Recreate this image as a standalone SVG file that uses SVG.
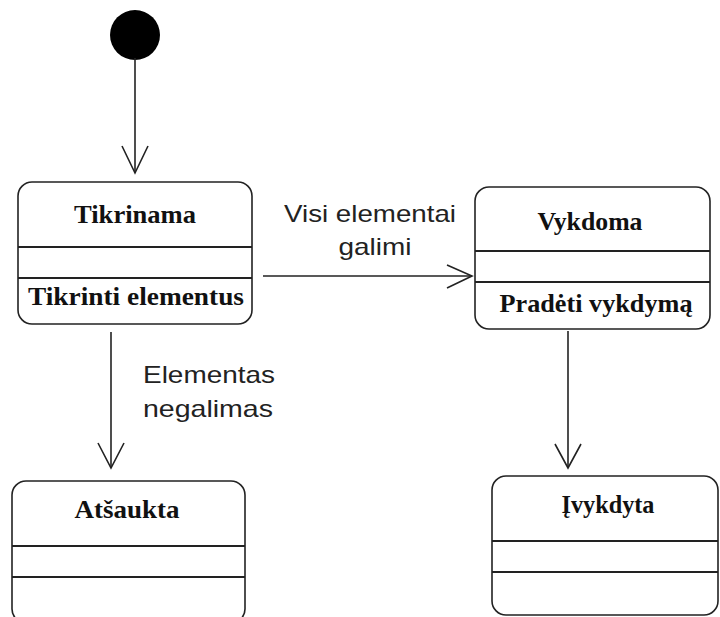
<svg xmlns="http://www.w3.org/2000/svg" width="720" height="617" viewBox="0 0 720 617">
  <style>
    .box { fill: #ffffff; stroke: #222222; stroke-width: 1.6; }
    .div { stroke: #222222; stroke-width: 2; }
    .title { font-family: "Liberation Serif", "Times New Roman", serif; font-weight: bold; font-size: 25px; fill: #111111; text-anchor: middle; }
    .label { font-family: "Liberation Sans", Arial, sans-serif; font-size: 24px; fill: #222222; text-anchor: middle; }
    .edge { fill: none; stroke: #222222; stroke-width: 1.6; }
  </style>
  <rect width="720" height="617" fill="#ffffff"/>

  <g id="initial">
    <circle cx="135" cy="35" r="25" fill="#000000"/>
  </g>

  <g id="tikrinama">
    <rect class="box" x="18" y="182" width="234" height="142" rx="14" ry="14"/>
    <line class="div" x1="18" y1="247" x2="252" y2="247"/>
    <line class="div" x1="18" y1="278" x2="252" y2="278"/>
    <text class="title" x="135" y="223" textLength="122" lengthAdjust="spacingAndGlyphs">Tikrinama</text>
    <text class="title" x="136" y="305" textLength="216" lengthAdjust="spacingAndGlyphs">Tikrinti elementus</text>
  </g>

  <g id="vykdoma">
    <rect class="box" x="475" y="187" width="235" height="142" rx="14" ry="14"/>
    <line class="div" x1="475" y1="251" x2="710" y2="251"/>
    <line class="div" x1="475" y1="282" x2="710" y2="282"/>
    <text class="title" x="590" y="230" textLength="105" lengthAdjust="spacingAndGlyphs">Vykdoma</text>
    <text class="title" x="596" y="312" textLength="193" lengthAdjust="spacingAndGlyphs">Pradėti vykdymą</text>
  </g>

  <g id="atsaukta">
    <rect class="box" x="12" y="481" width="233" height="142" rx="14" ry="14"/>
    <line class="div" x1="12" y1="546" x2="245" y2="546"/>
    <line class="div" x1="12" y1="577" x2="245" y2="577"/>
    <text class="title" x="127" y="518" textLength="105" lengthAdjust="spacingAndGlyphs">Atšaukta</text>
  </g>

  <g id="ivykdyta">
    <rect class="box" x="492" y="476" width="226" height="139" rx="14" ry="14"/>
    <line class="div" x1="492" y1="541" x2="718" y2="541"/>
    <line class="div" x1="492" y1="572" x2="718" y2="572"/>
    <text class="title" x="608" y="513" textLength="93" lengthAdjust="spacingAndGlyphs">Įvykdyta</text>
  </g>

  <g id="connectors">
    <!-- initial -> Tikrinama -->
    <line class="edge" x1="135" y1="58" x2="135" y2="173"/>
    <polyline class="edge" points="122,146 135,173 148,146"/>
    <!-- Tikrinama -> Vykdoma -->
    <line class="edge" x1="263" y1="276" x2="472" y2="276"/>
    <polyline class="edge" points="447,265 472,276 447,288"/>
    <text class="label" x="370" y="222" textLength="172" lengthAdjust="spacingAndGlyphs">Visi elementai</text>
    <text class="label" x="375" y="255" textLength="73" lengthAdjust="spacingAndGlyphs">galimi</text>
    <!-- Tikrinama -> Atšaukta -->
    <line class="edge" x1="111" y1="332" x2="111" y2="468"/>
    <polyline class="edge" points="98,443 111,468 124,443"/>
    <text class="label" x="209" y="383" textLength="132" lengthAdjust="spacingAndGlyphs">Elementas</text>
    <text class="label" x="208" y="417" textLength="130" lengthAdjust="spacingAndGlyphs">negalimas</text>
    <!-- Vykdoma -> Įvykdyta -->
    <line class="edge" x1="568" y1="331" x2="568" y2="468"/>
    <polyline class="edge" points="555,444 568,468 581,444"/>
  </g>
</svg>
